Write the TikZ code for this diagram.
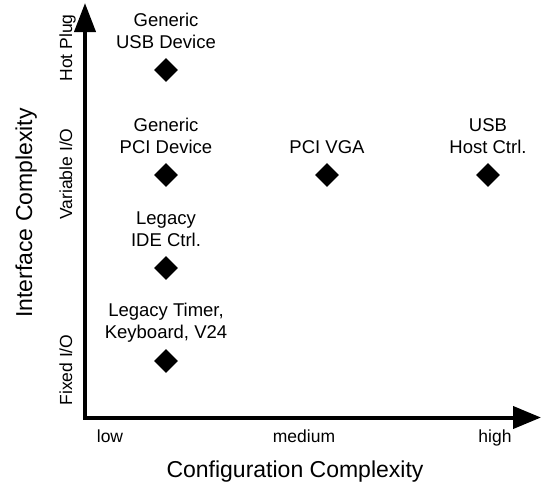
\documentclass[tikz,border=0pt]{standalone}
\usepackage{fontspec}
\setmainfont{Liberation Sans}
\usetikzlibrary{arrows.meta,shapes.geometric,positioning}

\tikzset{
  axis/.style={line width=4pt, line join=miter,
    {Triangle[length=29pt,width=21pt]}-{Triangle[length=28pt,width=22pt]}},
  device/.style={diamond, fill=black, minimum width=24pt, minimum height=24pt, inner sep=0pt},
  devlabel/.style={align=center, inner sep=0pt, text depth=0pt,
    font=\fontsize{18.5}{22}\selectfont},
  tick/.style={inner sep=0pt, anchor=base, font=\fontsize{17.5}{20}\selectfont},
  vtick/.style={tick, rotate=90},
  title/.style={inner sep=0pt, anchor=base, font=\fontsize{23}{26}\selectfont},
}

\begin{document}
\begin{tikzpicture}[x=1pt, y=-1pt]
  \useasboundingbox (0,0) rectangle (543,483);

  % axes
  \coordinate (origin) at (85,417.5);
  \coordinate (ytip) at (85,3);
  \coordinate (xtip) at (541,417.5);
  \draw[axis] (ytip) -- (origin) -- (xtip);

  % devices
  \node[device] (usbdev)  at (166,70)  {};
  \node[device] (pcidev)  at (166,175) {};
  \node[device] (ide)     at (166,268) {};
  \node[device] (timer)   at (166,361) {};
  \node[device] (vga)     at (327,175) {};
  \node[device] (usbhost) at (488,175) {};

  \node[devlabel, above=9pt of usbdev]  (lusbdev)  {Generic\\USB Device};
  \node[devlabel, above=9pt of pcidev]  (lpcidev)  {Generic\\PCI Device};
  \node[devlabel, above=9pt of ide]     (lide)     {Legacy\\IDE Ctrl.};
  \node[devlabel, above=10pt of timer]  (ltimer)   {Legacy Timer,\\Keyboard, V24};
  \node[devlabel, above=9pt of vga]     (lvga)     {PCI VGA};
  \node[devlabel, above=9pt of usbhost] (lusbhost) {USB\\Host Ctrl.};

  % tick labels
  \node[vtick] (hot)   at (72,48)  {Hot Plug};
  \node[vtick] (var)   at (72,174) {Variable I/O};
  \node[vtick] (fixed) at (72,370) {Fixed I/O};

  \node[tick] (low)  at (110,442) {low};
  \node[tick] (med)  at (304,442) {medium};
  \node[tick] (high) at (495,442) {high};

  % axis titles
  \node[title] (xtitle) at (295,477) {Configuration Complexity};
  \node[title, rotate=90] (ytitle) at (32,213) {Interface Complexity};
\end{tikzpicture}
\end{document}
